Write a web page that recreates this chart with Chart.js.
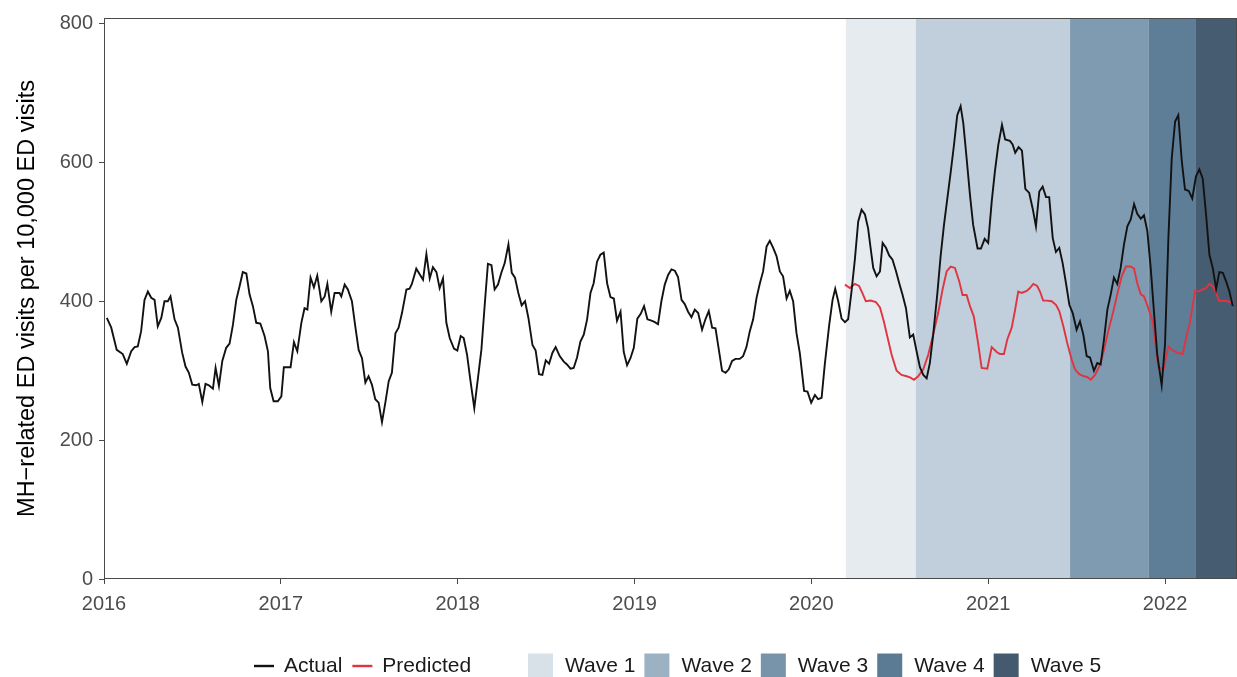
<!DOCTYPE html>
<html>
<head>
<meta charset="utf-8">
<script src="https://cdn.jsdelivr.net/npm/chart.js@4.4.1/dist/chart.umd.min.js"></script>
<style>
  html, body { margin: 0; padding: 0; background: #ffffff; }
  #wrap { width: 1237px; height: 677px; position: relative; }
</style>
</head>
<body>
<div id="wrap"><canvas id="c" width="1237" height="677"></canvas></div>
<script>
// Weekly mental-health-related ED visit rate (per 10,000 ED visits), x in decimal years
const actualYears = [
  2016.016, 2016.041, 2016.072, 2016.106, 2016.129, 2016.154, 2016.173, 2016.191, 2016.210, 2016.229,
  2016.248, 2016.267, 2016.286, 2016.304, 2016.324, 2016.342, 2016.361, 2016.376, 2016.399, 2016.418,
  2016.442, 2016.461, 2016.480, 2016.499, 2016.522, 2016.536, 2016.556, 2016.574, 2016.593, 2016.616,
  2016.631, 2016.650, 2016.669, 2016.691, 2016.710, 2016.729, 2016.748, 2016.767, 2016.785, 2016.805,
  2016.823, 2016.842, 2016.861, 2016.884, 2016.908, 2016.927, 2016.940, 2016.959, 2016.983, 2017.003,
  2017.017, 2017.055, 2017.074, 2017.093, 2017.116, 2017.134, 2017.150, 2017.168, 2017.187, 2017.206,
  2017.229, 2017.248, 2017.263, 2017.285, 2017.304, 2017.332, 2017.342, 2017.361, 2017.379, 2017.402,
  2017.421, 2017.440, 2017.459, 2017.478, 2017.496, 2017.515, 2017.534, 2017.553, 2017.572, 2017.591,
  2017.610, 2017.628, 2017.648, 2017.666, 2017.685, 2017.710, 2017.728, 2017.741, 2017.766, 2017.785,
  2017.804, 2017.823, 2017.842, 2017.860, 2017.880, 2017.898, 2017.917, 2017.936, 2017.955, 2017.979,
  2017.998, 2018.017, 2018.034, 2018.053, 2018.072, 2018.094, 2018.115, 2018.134, 2018.153, 2018.171,
  2018.191, 2018.209, 2018.228, 2018.247, 2018.266, 2018.287, 2018.306, 2018.324, 2018.343, 2018.362,
  2018.381, 2018.400, 2018.423, 2018.441, 2018.460, 2018.479, 2018.498, 2018.517, 2018.536, 2018.554,
  2018.577, 2018.600, 2018.618, 2018.638, 2018.656, 2018.675, 2018.694, 2018.713, 2018.732, 2018.751,
  2018.769, 2018.788, 2018.807, 2018.826, 2018.845, 2018.864, 2018.883, 2018.901, 2018.921, 2018.939,
  2018.958, 2018.977, 2018.996, 2019.016, 2019.035, 2019.054, 2019.073, 2019.096, 2019.115, 2019.133,
  2019.152, 2019.171, 2019.190, 2019.209, 2019.228, 2019.246, 2019.266, 2019.284, 2019.303, 2019.322,
  2019.341, 2019.360, 2019.382, 2019.401, 2019.420, 2019.439, 2019.458, 2019.477, 2019.495, 2019.515,
  2019.533, 2019.552, 2019.571, 2019.595, 2019.614, 2019.633, 2019.652, 2019.671, 2019.690, 2019.709,
  2019.727, 2019.747, 2019.765, 2019.784, 2019.803, 2019.822, 2019.840, 2019.860, 2019.878, 2019.897,
  2019.916, 2019.935, 2019.959, 2019.978, 2019.999, 2020.020, 2020.038, 2020.058, 2020.076, 2020.101,
  2020.120, 2020.135, 2020.152, 2020.171, 2020.190, 2020.208, 2020.227, 2020.246, 2020.265, 2020.284,
  2020.303, 2020.321, 2020.335, 2020.350, 2020.369, 2020.388, 2020.403, 2020.422, 2020.440, 2020.459,
  2020.478, 2020.497, 2020.516, 2020.535, 2020.557, 2020.576, 2020.595, 2020.614, 2020.633, 2020.652,
  2020.670, 2020.689, 2020.712, 2020.731, 2020.750, 2020.768, 2020.788, 2020.806, 2020.825, 2020.844,
  2020.859, 2020.878, 2020.897, 2020.915, 2020.940, 2020.959, 2020.980, 2021.000, 2021.020, 2021.038,
  2021.057, 2021.078, 2021.096, 2021.123, 2021.138, 2021.153, 2021.172, 2021.191, 2021.210, 2021.232,
  2021.252, 2021.270, 2021.289, 2021.308, 2021.327, 2021.345, 2021.365, 2021.383, 2021.402, 2021.421,
  2021.440, 2021.459, 2021.478, 2021.500, 2021.519, 2021.538, 2021.557, 2021.576, 2021.598, 2021.617,
  2021.636, 2021.655, 2021.674, 2021.693, 2021.711, 2021.730, 2021.749, 2021.768, 2021.787, 2021.806,
  2021.825, 2021.843, 2021.863, 2021.881, 2021.900, 2021.919, 2021.938, 2021.956, 2021.981, 2022.000,
  2022.019, 2022.038, 2022.057, 2022.075, 2022.095, 2022.113, 2022.134, 2022.154, 2022.175, 2022.194,
  2022.213, 2022.232, 2022.251, 2022.270, 2022.289, 2022.307, 2022.327, 2022.345, 2022.364, 2022.383
];
const actualValues = [
  376, 362, 330, 324, 310, 328, 334, 335, 357, 402,
  414, 405, 402, 364, 376, 400, 400, 407, 374, 362,
  326, 306, 297, 280, 279, 281, 255, 281, 279, 274,
  304, 278, 314, 333, 339, 366, 402, 422, 442, 440,
  410, 393, 369, 368, 350, 328, 275, 256, 256, 263,
  305, 305, 341, 328, 369, 390, 388, 434, 420, 437,
  400, 407, 425, 385, 412, 412, 407, 424, 417, 400,
  364, 330, 318, 283, 292, 280, 259, 254, 226, 254,
  285, 297, 354, 362, 383, 417, 418, 425, 447, 439,
  431, 468, 433, 449, 442, 419, 433, 369, 347, 332,
  329, 350, 347, 323, 286, 246, 290, 330, 395, 454,
  452, 417, 424, 441, 455, 482, 441, 434, 412, 394,
  400, 376, 337, 329, 295, 294, 315, 310, 326, 334,
  321, 313, 309, 303, 304, 319, 342, 352, 374, 412,
  426, 457, 467, 470, 426, 406, 404, 372, 385, 327,
  308, 318, 333, 375, 382, 393, 374, 372, 370, 367,
  400, 424, 438, 446, 444, 435, 402, 396, 385, 377,
  388, 383, 359, 374, 386, 362, 361, 330, 300, 297,
  302, 314, 317, 317, 321, 334, 357, 374, 405, 426,
  443, 479, 487, 477, 465, 443, 436, 404, 415, 400,
  354, 325, 271, 270, 254, 265, 259, 261, 309, 366,
  402, 418, 400, 375, 370, 374, 414, 460, 515, 532,
  525, 505, 477, 448, 436, 443, 484, 477, 466, 460,
  444, 426, 409, 390, 348, 352, 328, 305, 294, 289,
  311, 352, 410, 465, 510, 546, 586, 624, 668, 681,
  657, 606, 553, 510, 476, 476, 490, 484, 544, 587,
  625, 654, 633, 631, 626, 614, 622, 617, 562, 556,
  533, 508, 558, 565, 550, 550, 491, 471, 477, 455,
  426, 395, 383, 359, 371, 352, 321, 319, 300, 311,
  309, 345, 388, 410, 434, 425, 448, 482, 508, 518,
  540, 526, 519, 524, 501, 448, 383, 323, 279, 338,
  491, 606, 659, 668, 601, 561, 559, 548, 580, 590,
  577, 525, 467, 448, 418, 442, 441, 429, 414, 393
];
const predictedYears = [
  2020.190, 2020.218, 2020.246, 2020.270, 2020.290, 2020.308, 2020.335, 2020.365, 2020.388, 2020.410,
  2020.429, 2020.454, 2020.482, 2020.510, 2020.539, 2020.561, 2020.580, 2020.604, 2020.633, 2020.661,
  2020.689, 2020.717, 2020.742, 2020.765, 2020.788, 2020.812, 2020.836, 2020.855, 2020.878, 2020.897,
  2020.919, 2020.944, 2020.963, 2020.995, 2021.020, 2021.048, 2021.067, 2021.089, 2021.108, 2021.133,
  2021.151, 2021.170, 2021.189, 2021.218, 2021.236, 2021.255, 2021.277, 2021.293, 2021.311, 2021.331,
  2021.359, 2021.383, 2021.402, 2021.425, 2021.447, 2021.472, 2021.491, 2021.515, 2021.542, 2021.560,
  2021.580, 2021.604, 2021.628, 2021.651, 2021.679, 2021.708, 2021.730, 2021.755, 2021.779, 2021.806,
  2021.825, 2021.843, 2021.863, 2021.881, 2021.903, 2021.930, 2021.949, 2021.962, 2021.981, 2021.994,
  2022.019, 2022.044, 2022.070, 2022.100, 2022.119, 2022.142, 2022.157, 2022.170, 2022.188, 2022.213,
  2022.232, 2022.251, 2022.270, 2022.289, 2022.307, 2022.327, 2022.353, 2022.369, 2022.383
];
const predictedValues = [
  424, 419, 425, 422, 411, 400, 401, 399, 391, 371,
  350, 323, 300, 294, 292, 290, 287, 292, 302, 323,
  352, 383, 417, 443, 450, 448, 429, 409, 409, 393,
  378, 338, 304, 303, 334, 327, 324, 324, 345, 362,
  386, 414, 412, 415, 419, 425, 422, 414, 401, 401,
  400, 395, 386, 364, 340, 316, 302, 295, 292, 291,
  287, 294, 306, 326, 357, 386, 410, 436, 450, 450,
  447, 426, 410, 407, 392, 371, 333, 305, 303, 304,
  335, 329, 326, 324, 347, 371, 395, 415, 414, 417,
  419, 425, 422, 412, 400, 401, 400, 399, 396
];

// Pandemic wave periods (start of each wave, decimal years) and end of the series window
const waveNames = ['Wave 1', 'Wave 2', 'Wave 3', 'Wave 4', 'Wave 5'];
const waveStarts = [2020.195, 2020.591, 2021.463, 2021.906, 2022.175];
const windowEnd = 2022.407;

const yearTicks = [2016, 2017, 2018, 2019, 2020, 2021, 2022];
const valueTicks = [0, 200, 400, 600, 800];

const bandColors = ['#e6ebf0', '#c1cedb', '#7f9bb2', '#5e7e98', '#465c71'];
const keyColors  = ['#d8e0e8', '#9cb2c3', '#7894ab', '#5b7a94', '#455a6f'];
const actualColor = '#121212';
const predictedColor = '#df3540';
const FONT = '"Liberation Sans", Arial, Helvetica, sans-serif';

// Shaded wave periods behind the lines
const waveBands = {
  id: 'waveBands',
  beforeDatasetsDraw(chart) {
    const { ctx, chartArea: a, scales: { x } } = chart;
    ctx.save();
    waveStarts.forEach((start, i) => {
      const end = i + 1 < waveStarts.length ? waveStarts[i + 1] : windowEnd;
      const x0 = x.getPixelForValue(start);
      const x1 = x.getPixelForValue(end);
      ctx.fillStyle = bandColors[i];
      ctx.fillRect(x0, a.top, x1 - x0, a.bottom - a.top);
    });
    ctx.restore();
  }
};

// Panel border
const panelFrame = {
  id: 'panelFrame',
  afterDatasetsDraw(chart) {
    const { ctx, chartArea: a } = chart;
    ctx.save();
    ctx.strokeStyle = '#4a4a4a';
    ctx.lineWidth = 1;
    const l = Math.round(a.left) + 0.5, t = Math.round(a.top) + 0.5;
    const r = Math.round(a.right) - 0.5, b = Math.round(a.bottom) - 0.5;
    ctx.strokeRect(l, t, r - l, b - t);
    ctx.restore();
  }
};

// Bottom legend: line keys for the two series, filled keys for the waves
const bottomLegend = {
  id: 'bottomLegend',
  afterDraw(chart) {
    const { ctx } = chart;
    const cy = 666;
    ctx.save();
    ctx.font = '21px ' + FONT;
    ctx.textBaseline = 'middle';
    let x = 254;
    [['Actual', actualColor], ['Predicted', predictedColor]].forEach(([label, color]) => {
      ctx.strokeStyle = color;
      ctx.lineWidth = 2.4;
      ctx.beginPath();
      ctx.moveTo(x, cy);
      ctx.lineTo(x + 20, cy);
      ctx.stroke();
      x += 30;
      ctx.fillStyle = '#1a1a1a';
      ctx.fillText(label, x, cy);
      x += ctx.measureText(label).width + 10;
    });
    x = 528;
    waveNames.forEach((label, i) => {
      ctx.fillStyle = keyColors[i];
      ctx.fillRect(x, cy - 12.5, 25, 25);
      x += 37;
      ctx.fillStyle = '#1a1a1a';
      ctx.fillText(label, x, cy);
      x += ctx.measureText(label).width + 9;
    });
    ctx.restore();
  }
};

new Chart(document.getElementById('c'), {
  type: 'line',
  data: {
    datasets: [
      {
        label: 'Actual',
        data: actualYears.map((yr, i) => ({ x: yr, y: actualValues[i] })),
        borderColor: actualColor,
        borderWidth: 1.9,
        pointRadius: 0,
        tension: 0,
        order: 1
      },
      {
        label: 'Predicted',
        data: predictedYears.map((yr, i) => ({ x: yr, y: predictedValues[i] })),
        borderColor: predictedColor,
        borderWidth: 1.9,
        pointRadius: 0,
        tension: 0,
        order: 2
      }
    ]
  },
  options: {
    responsive: false,
    animation: false,
    devicePixelRatio: 1,
    events: [],
    layout: { padding: { top: 14.5, right: 0, bottom: 58, left: 0 } },
    plugins: { legend: { display: false }, tooltip: { enabled: false } },
    scales: {
      x: {
        type: 'linear',
        min: 2016,
        max: windowEnd,
        afterBuildTicks(scale) { scale.ticks = yearTicks.map(v => ({ value: v })); },
        afterFit(scale) { scale.height = 40; },
        ticks: {
          font: { family: FONT, size: 20 },
          color: '#4d4d4d',
          padding: 8,
          maxRotation: 0,
          autoSkip: false,
          callback: v => String(v)
        },
        grid: { drawOnChartArea: false, drawTicks: true, tickLength: 5, tickColor: '#4a4a4a' },
        border: { display: false }
      },
      y: {
        type: 'linear',
        min: 0,
        max: 808,
        afterBuildTicks(scale) { scale.ticks = valueTicks.map(v => ({ value: v })); },
        afterFit(scale) { scale.width = 104; },
        ticks: {
          font: { family: FONT, size: 20 },
          color: '#4d4d4d',
          padding: 6,
          autoSkip: false,
          callback: v => String(v)
        },
        grid: { drawOnChartArea: false, drawTicks: true, tickLength: 5, tickColor: '#4a4a4a' },
        border: { display: false },
        title: {
          display: true,
          text: 'MH\u2212related ED visits per 10,000 ED visits',
          font: { family: FONT, size: 23.5 },
          color: '#000000',
          padding: { top: 13, bottom: 0 }
        }
      }
    }
  },
  plugins: [waveBands, panelFrame, bottomLegend]
});
</script>
</body>
</html>
